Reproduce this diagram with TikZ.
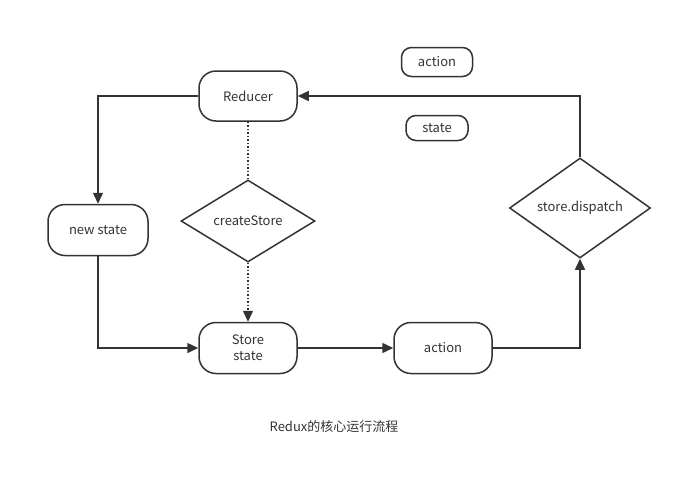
\documentclass[tikz,border=0pt]{standalone}
\usepackage{fontspec}
\setmainfont{Noto Sans CJK SC}
\usepackage{xcolor}
\usetikzlibrary{shapes.geometric, positioning, arrows.meta}
\definecolor{trazo}{HTML}{333333}
\tikzset{
  caja/.style={draw=trazo, line width=1.5pt, rounded corners=17pt, minimum width=98pt, minimum height=50pt, text=trazo},
  leyenda/.style={draw=trazo, line width=1.5pt, rounded corners=10pt, inner sep=0pt, text=trazo},
  rombo/.style={draw=trazo, line width=1.5pt, diamond, inner sep=0pt, text=trazo},
  flecha/.style={draw=trazo, line width=1.5pt, -{Triangle[length=11pt,width=10pt]}},
}
\begin{document}
\begin{tikzpicture}[x=1pt, y=-1pt, font=\fontsize{13}{15}\selectfont]
        \useasboundingbox (0,0) rectangle (683,483);
        % Nodes
        \node[caja] (reducer) at (248,96) {Reducer};
        \node[leyenda, minimum width=71pt, minimum height=29pt] (legaction) at (437,62) {action};
        \node[leyenda, minimum width=62pt, minimum height=25pt] (legstate) at (437,128) {state};
        \node[rombo, minimum width=134pt, minimum height=82pt, aspect=1.6] (create) at (248,221) {createStore};
        \node[caja, minimum width=100pt, minimum height=51pt] (newstate) at (98,230) {new state};
        \node[caja, minimum height=51pt, align=center, font=\fontsize{13}{16}\selectfont] (store) at (248,348) {Store\\state};
        \node[caja, minimum height=51pt] (action) at (443,348) {action};
        \node[rombo, minimum width=141pt, minimum height=100pt, aspect=1.4] (dispatch) at (580,208) {store.dispatch};
        \node[text=trazo] (titulo) at (334,427) {Redux的核心运行流程};

        % Arrows
        \draw[flecha] (reducer.west) -| (newstate.north);
        \draw[flecha] (newstate.south) |- (store.west);
        \draw[draw=trazo, line width=1.5pt, dotted] (reducer.south) -- (create.north);
        \draw[flecha, dotted] (create.south) -- (store.north);
        \draw[flecha] (store.east) -- (action.west);
        \draw[flecha] (action.east) -| (dispatch.south);
        \draw[flecha] (dispatch.north) |- (reducer.east);
    \end{tikzpicture}
\end{document}
